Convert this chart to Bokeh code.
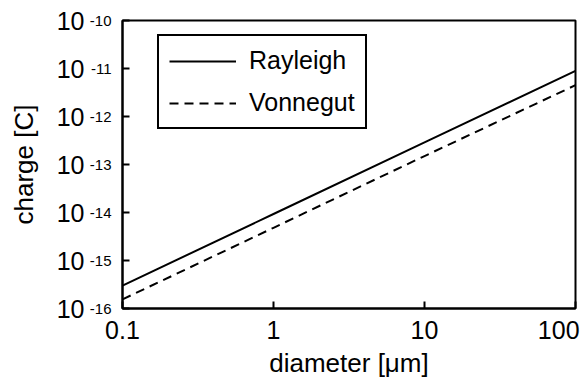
import math

from bokeh.plotting import figure
from bokeh.models import Range1d, FixedTicker, LogAxis, Legend, LegendItem
from bokeh.embed import file_html
from bokeh.resources import INLINE

# Droplet charge limit versus droplet diameter
diameter_um = [0.1, 1, 10, 100]
charge_rayleigh = [3.0e-16, 9.3e-15, 2.9e-13, 8.9e-12]
charge_vonnegut = [1.55e-16, 4.8e-15, 1.5e-13, 4.5e-12]

x_ticks = [0.1, 1, 10, 100]
x_tick_labels = ["0.1", "1", "10", "100\u00a0"]
y_ticks = [1e-16, 1e-15, 1e-14, 1e-13, 1e-12, 1e-11, 1e-10]
y_tick_base = "10"
y_tick_exponents = ["-16", "-15", "-14", "-13", "-12", "-11", "-10"]

FONT = "Liberation Sans"
X_MIN, X_MAX = 0.1, 100
Y_MIN, Y_MAX = 1e-16, 1e-10

p = figure(
    width=586, height=380,
    x_axis_type="log", y_axis_type="log",
    x_range=Range1d(X_MIN, X_MAX), y_range=Range1d(Y_MIN, Y_MAX),
    output_backend="svg", toolbar_location=None,
    min_border_left=122, min_border_right=11,
    min_border_top=20, min_border_bottom=70,
)
p.background_fill_color = "white"
p.border_fill_color = "white"
p.outline_line_color = "black"
p.outline_line_width = 2
p.xgrid.visible = False
p.ygrid.visible = False

for ax in (p.xaxis[0], p.yaxis[0]):
    ax.axis_line_width = 2
    ax.axis_line_color = "black"
    ax.major_tick_line_width = 2
    ax.major_tick_line_color = "black"
    ax.major_tick_in = 7
    ax.major_tick_out = 0
    ax.minor_tick_line_color = None
    ax.major_label_text_font = FONT
    ax.major_label_text_color = "black"

# diameter axis
xa = p.xaxis[0]
xa.ticker = FixedTicker(ticks=x_ticks)
xa.major_label_overrides = dict(zip(x_ticks, x_tick_labels))
xa.major_label_text_font_size = "25px"
xa.major_label_standoff = 7
xa.axis_label = "diameter [\u03bcm]"
xa.axis_label_text_font = FONT
xa.axis_label_text_font_size = "26px"
xa.axis_label_text_font_style = "normal"
xa.axis_label_text_color = "black"
xa.axis_label_standoff = 1

# charge axis: the inner axis carries the exponents, the outer one the base 10
ya = p.yaxis[0]
ya.ticker = FixedTicker(ticks=y_ticks)
ya.major_label_overrides = dict(zip(y_ticks, y_tick_exponents))
ya.major_label_text_font_size = "15px"
ya.major_label_standoff = 11

yb = LogAxis(
    ticker=FixedTicker(ticks=y_ticks),
    major_label_overrides={t: y_tick_base for t in y_ticks},
    major_label_text_font=FONT, major_label_text_font_size="25px",
    major_label_text_color="black", major_label_standoff=2,
    axis_line_color=None, major_tick_line_color=None, minor_tick_line_color=None,
    major_tick_in=0, major_tick_out=0,
    axis_label="charge [C]", axis_label_text_font=FONT,
    axis_label_text_font_size="26px", axis_label_text_font_style="normal",
    axis_label_text_color="black", axis_label_standoff=15,
)
p.add_layout(yb, "left")

r_ray = p.line(diameter_um, charge_rayleigh, line_color="black", line_width=2)
r_von = p.line(diameter_um, charge_vonnegut, line_color="black", line_width=2,
               line_dash="9 6")

legend = Legend(
    items=[LegendItem(label="Rayleigh", renderers=[r_ray]),
           LegendItem(label="Vonnegut", renderers=[r_von])],
    location=(35, 179),
    border_line_color="black", border_line_width=2, border_line_alpha=1,
    background_fill_color="white", background_fill_alpha=1,
    label_text_font=FONT, label_text_font_size="25px", label_text_color="black",
    glyph_width=67, glyph_height=28, label_height=28,
    spacing=13, padding=10, label_standoff=13, margin=0,
)
p.add_layout(legend)

open("out.html", "w").write(file_html(p, INLINE))
